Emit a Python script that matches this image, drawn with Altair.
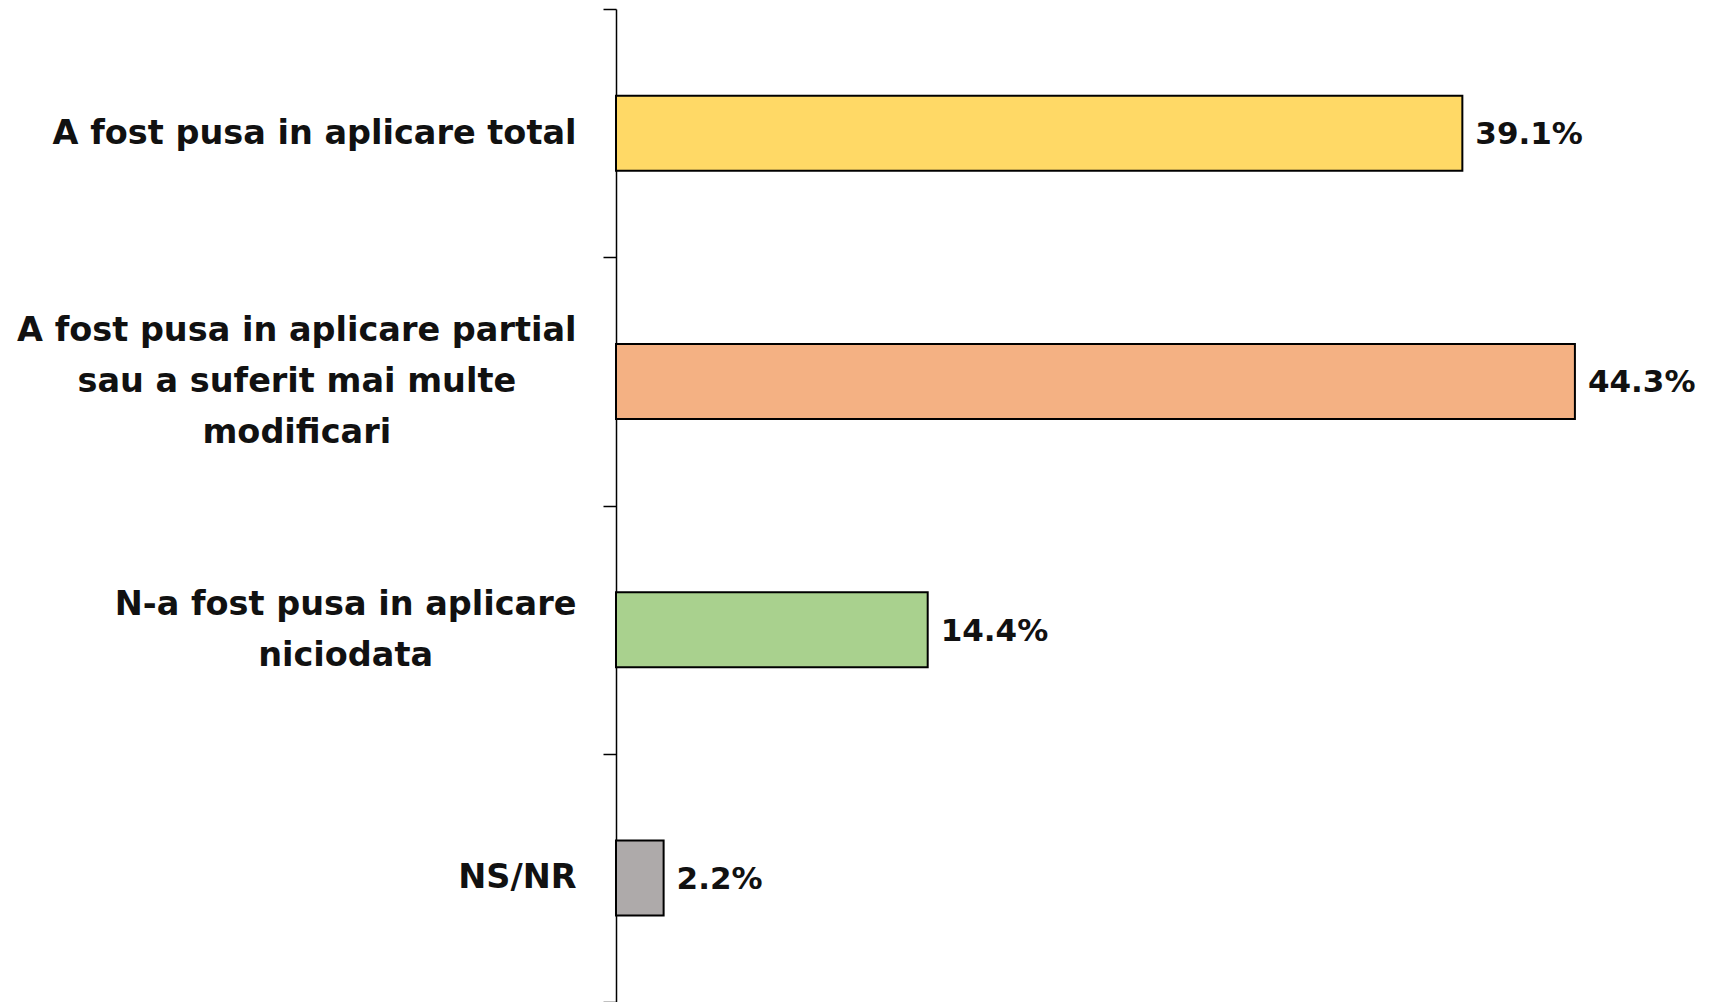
import altair as alt
import pandas as pd

categories = [
    ["A fost pusa in aplicare total"],
    ["A fost pusa in aplicare partial", "sau a suferit mai multe", "modificari"],
    ["N-a fost pusa in aplicare", "niciodata"],
    ["NS/NR"],
]
values = [39.1, 44.3, 14.4, 2.2]
colors = ["#FFD966", "#F4B183", "#A9D18E", "#AEAAAA"]

keys = [" ".join(c) for c in categories]
df = pd.DataFrame({
    "cat": keys,
    "value": values,
    "label": [f"{v:.1f}%" for v in values],
})

FONT = "DejaVu Sans"
FS = 33.5
LINE_H = 51
PAD = 27
# approximate advance widths (em/1000) of DejaVu Sans Bold, used only to centre multi-line labels
ADV = {"A": 774, " ": 348, "f": 435, "o": 687, "s": 595, "t": 478, "p": 716, "u": 712,
       "a": 675, "i": 343, "n": 712, "l": 343, "c": 593, "r": 493, "e": 678, "N": 837,
       "-": 415, "m": 1042, "d": 716, "S": 720, "/": 365, "R": 770}


def text_width(s):
    return sum(ADV.get(ch, 650) for ch in s) / 1000 * FS


expr_parts, pad_conds, off_conds, align_conds = [], [], [], []
for k, c in zip(keys, categories):
    if len(c) > 1:
        test = f"datum.value == '{k}'"
        arr = "[" + ",".join("'" + s + "'" for s in c) + "]"
        expr_parts.append(f"{test} ? {arr}")
        w = max(text_width(s) for s in c)
        pad_conds.append({"test": test, "value": round(PAD + w / 2, 1)})
        off_conds.append({"test": test, "value": round(-(len(c) - 1) * LINE_H / 2, 1)})
        align_conds.append({"test": test, "value": "center"})
label_expr = " : ".join(expr_parts) + " : datum.value"

y = alt.Y(
    "cat:N",
    sort=keys,
    title=None,
    scale=alt.Scale(paddingInner=0, paddingOuter=0),
    axis=alt.Axis(
        tickBand="extent",
        labelExpr=label_expr,
        labelFont=FONT,
        labelFontSize=FS,
        labelFontWeight="bold",
        labelColor="#111111",
        labelLineHeight=LINE_H,
        labelPadding={"condition": pad_conds, "value": PAD},
        labelOffset={"condition": off_conds, "value": 0},
        labelAlign={"condition": align_conds, "value": "right"},
        tickSize=13,
        tickColor="#000000",
        tickWidth=1.5,
        domainColor="#000000",
        domainWidth=1.5,
        labelLimit=800,
    ),
)
x = alt.X("value:Q", title=None, axis=None, scale=alt.Scale(domain=[0, 48], nice=False))

bars = alt.Chart(df).mark_bar(size=75, stroke="#000000", strokeWidth=2).encode(
    x=x,
    y=y,
    color=alt.Color("cat:N", scale=alt.Scale(domain=keys, range=colors), legend=None),
)
text = alt.Chart(df).mark_text(
    align="left", baseline="middle", dx=13, dy=2,
    font=FONT, fontSize=31, fontWeight="bold", color="#111111",
).encode(x=x, y=alt.Y("cat:N", sort=keys), text="label:N")

chart = (bars + text).properties(
    width=1039, height=993,
    autosize=alt.AutoSizeParams(type="none"),
    padding={"left": 608, "top": 1, "right": 50, "bottom": 0},
).configure_view(stroke=None).configure_axis(grid=False)

chart.save("out.html", embed_options={"renderer": "svg", "actions": False})
